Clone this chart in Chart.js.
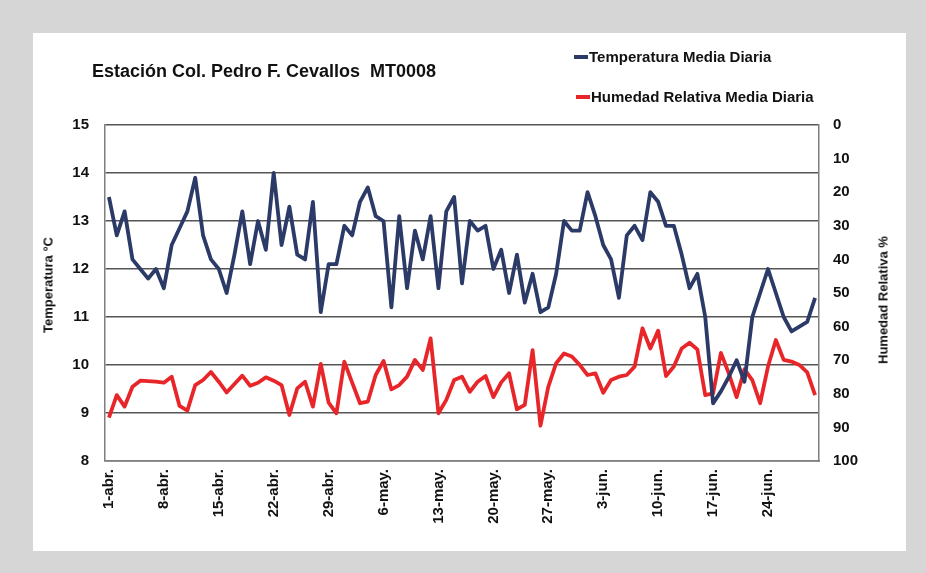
<!DOCTYPE html>
<html>
<head>
<meta charset="utf-8">
<script src="https://cdn.jsdelivr.net/npm/chart.js@4.4.1/dist/chart.umd.min.js"></script>
<style>
  body { margin: 0; background: #d6d6d6; width: 926px; height: 573px; overflow: hidden; font-family: "Liberation Sans", Arial, sans-serif; }
  #panel { position: absolute; left: 33px; top: 33px; width: 873px; height: 518px; background: #ffffff; }
  #myChart { position: absolute; left: 0; top: 0; }
  .txt { position: absolute; font-weight: bold; color: #111; white-space: nowrap; }
  #title { left: 92px; top: 61px; font-size: 18px; }
  .sw { position: absolute; width: 14px; height: 4px; }
  .leg { font-size: 15px; }
  .axt { font-size: 13px; transform: translate(-50%, -50%) rotate(-90deg); }
</style>
</head>
<body>
<div id="panel"></div>
<canvas id="myChart" width="926" height="573"></canvas>
<div class="txt" id="title">Estación Col. Pedro F. Cevallos&nbsp; MT0008</div>
<div class="sw" style="left:574px; top:55px; background:#2b3a67;"></div>
<div class="txt leg" style="left:589px; top:48px;">Temperatura Media Diaria</div>
<div class="sw" style="left:576px; top:95px; background:#e8262a;"></div>
<div class="txt leg" style="left:591px; top:88px;">Humedad Relativa Media Diaria</div>
<div class="txt axt" style="left:48px; top:285px;">Temperatura °C</div>
<div class="txt axt" style="left:883px; top:300px;">Humedad Relativa %</div>
<script>
// months in the period (name, days)
var months = [['abr.', 30], ['may.', 31], ['jun.', 30]];

// daily mean temperature, °C (1-abr .. 30-jun)
var temperatura = [
  13.5, 12.7, 13.2, 12.2, 12.0, 11.8, 12.0, 11.6, 12.5, 12.85, 13.2, 13.9, 12.7, 12.2, 12.0,
  11.5, 12.3, 13.2, 12.1, 13.0, 12.4, 14.0, 12.5, 13.3, 12.3, 12.2, 13.4, 11.1, 12.1, 12.1,
  12.9, 12.7, 13.4, 13.7, 13.1, 13.0, 11.2, 13.1, 11.6, 12.8, 12.2, 13.1, 11.6, 13.2, 13.5,
  11.7, 13.0, 12.8, 12.9, 12.0, 12.4, 11.5, 12.3, 11.3, 11.9, 11.1, 11.2, 11.9, 13.0, 12.8, 12.8,
  13.6, 13.1, 12.5, 12.2, 11.4, 12.7, 12.9, 12.6, 13.6, 13.4, 12.9, 12.9, 12.3, 11.6, 11.9,
  11.0, 9.2, 9.45, 9.75, 10.1, 9.65, 11.0, 11.5, 12.0, 11.5, 11.0, 10.7, 10.8, 10.9, 11.4
];

// daily mean relative humidity, %
var humedad = [
  87.1, 80.4, 83.8, 77.9, 76.1, 76.2, 76.4, 76.7, 74.9, 83.6, 85.0, 77.4, 75.9, 73.5, 76.4,
  79.6, 77.1, 74.6, 77.6, 76.7, 75.1, 76.1, 77.4, 86.3, 78.4, 76.4, 83.8, 71.1, 82.6, 85.8,
  70.4, 76.7, 82.8, 82.3, 74.4, 70.2, 78.7, 77.4, 74.9, 69.9, 72.9, 63.5, 85.8, 81.8, 75.9,
  74.9, 79.4, 76.4, 74.7, 81.0, 76.6, 73.9, 84.6, 83.3, 67.0, 89.5, 77.9, 70.9, 68.0, 68.9, 71.4,
  74.4, 73.9, 79.7, 75.9, 74.9, 74.4, 71.9, 60.5, 66.5, 61.2, 74.7, 71.9, 66.5, 64.8, 66.8,
  80.4, 79.9, 67.8, 73.9, 81.0, 72.7, 75.9, 82.8, 71.9, 64.0, 69.9, 70.4, 71.4, 73.6, 80.4
];

// category labels: one per day
var fechas = [];
months.forEach(function(m) {
  for (var d = 1; d <= m[1]; d++) fechas.push(d + '-' + m[0]);
});

var tickFont = { family: '"Liberation Sans", Arial, sans-serif', size: 15, weight: 'bold' };

var ctx = document.getElementById('myChart').getContext('2d');
var myChart = new Chart(ctx, {
  type: 'line',
  data: {
    labels: fechas,
    datasets: [{
      label: 'Temperatura Media Diaria',
      data: temperatura,
      borderColor: '#2b3a67',
      borderWidth: 3.8,
      borderJoinStyle: 'round',
      pointRadius: 0,
      tension: 0,
      yAxisID: 'y'
    }, {
      label: 'Humedad Relativa Media Diaria',
      data: humedad,
      borderColor: '#e8262a',
      borderWidth: 3.8,
      borderJoinStyle: 'round',
      pointRadius: 0,
      tension: 0,
      yAxisID: 'y1'
    }]
  },
  options: {
    responsive: false,
    animation: false,
    devicePixelRatio: 1,
    layout: { padding: { left: 35, right: 32, top: 125, bottom: 22 } },
    plugins: { legend: { display: false }, tooltip: { enabled: false } },
    scales: {
      x: {
        offset: true,
        grid: { display: false },
        border: { display: true, color: '#7f7f7f', width: 1.5 },
        ticks: {
          autoSkip: false,
          minRotation: 90,
          maxRotation: 90,
          padding: 0,
          color: '#111',
          font: tickFont,
          callback: function(val, i) { return i % 7 === 0 ? fechas[i] : ''; }
        },
        afterFit: function(scale) { scale.height = 90; }
      },
      y: {
        position: 'left',
        min: 8,
        max: 15,
        ticks: { stepSize: 1, padding: 16, color: '#111', font: tickFont },
        grid: { color: '#555555', lineWidth: 1.5, drawTicks: false },
        border: { display: true, color: '#7f7f7f', width: 1.5 },
        afterFit: function(scale) { scale.width = 70; }
      },
      y1: {
        position: 'right',
        min: 0,
        max: 100,
        reverse: true,
        ticks: { stepSize: 10, padding: 14, color: '#111', font: tickFont },
        grid: { drawOnChartArea: false, drawTicks: false },
        border: { display: true, color: '#7f7f7f', width: 1.5 },
        afterFit: function(scale) { scale.width = 75; }
      }
    }
  }
});
</script>
</body>
</html>
